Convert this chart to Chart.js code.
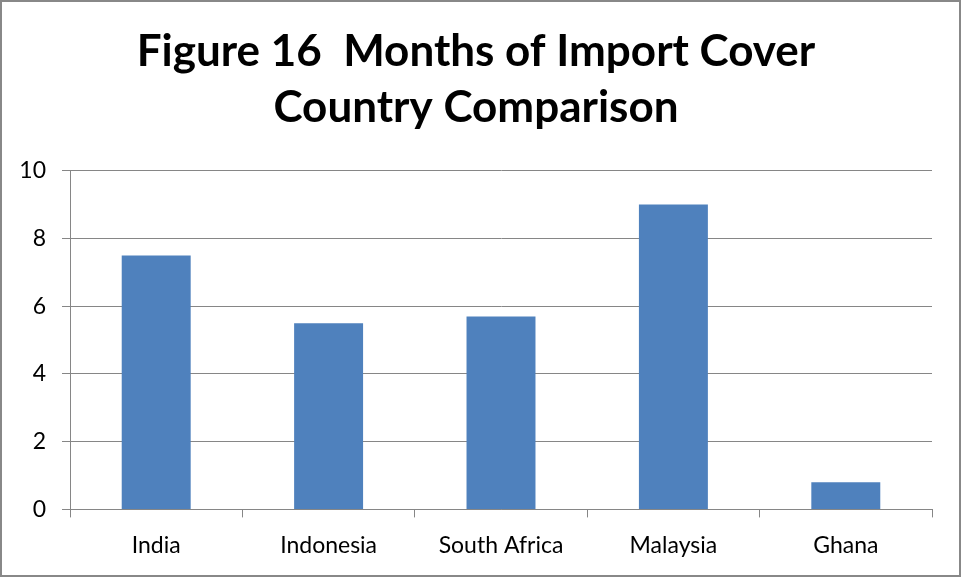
<!DOCTYPE html>
<html>
<head>
<meta charset="utf-8">
<script src="https://cdn.jsdelivr.net/npm/chart.js@4/dist/chart.umd.min.js"></script>
<style>
  body { margin: 0; background: #fff; }
  #wrap { width: 961px; height: 577px; }
</style>
</head>
<body>
<div id="wrap"><canvas id="importChart" width="961" height="577"></canvas></div>
<script>
// chart data
var countries = ['India', 'Indonesia', 'South Africa', 'Malaysia', 'Ghana'];
var monthsCover = [7.5, 5.5, 5.7, 9, 0.8];
var titleLines = ['Figure 16  Months of Import Cover', 'Country Comparison'];

var FONT = "Lato, Calibri, 'Open Sans', sans-serif";
var GRID = '#868686';

// grey frame round the whole chart
var framePlugin = {
  id: 'frame',
  afterDraw: function(chart) {
    var c = chart.ctx;
    c.save();
    c.strokeStyle = '#888888';
    c.lineWidth = 2;
    c.strokeRect(1, 1, chart.width - 2, chart.height - 2);
    c.restore();
  }
};

var ctx = document.getElementById('importChart').getContext('2d');
var chart = new Chart(ctx, {
  type: 'bar',
  data: {
    labels: countries,
    datasets: [{
      label: 'Months of import cover',
      data: monthsCover,
      backgroundColor: '#4F81BD',
      barPercentage: 0.4,
      categoryPercentage: 1.0
    }]
  },
  options: {
    responsive: false,
    animation: false,
    layout: { padding: { left: 20, right: 29, top: 14, bottom: 4 } },
    plugins: {
      legend: { display: false },
      tooltip: { enabled: false },
      title: {
        display: true,
        text: titleLines,
        color: '#000',
        font: { family: FONT, size: 44, weight: 'bold', lineHeight: 1.27 },
        padding: { top: 10, bottom: 35 }
      }
    },
    scales: {
      y: {
        min: 0,
        max: 10,
        ticks: { stepSize: 2, color: '#000', font: { family: FONT, size: 23 }, padding: 16 },
        grid: { color: GRID, lineWidth: 1, tickLength: 8 },
        border: { color: GRID, width: 1 },
        afterFit: function(scale) { scale.width = 50; }
      },
      x: {
        ticks: { color: '#000', font: { family: FONT, size: 23 }, padding: 14 },
        grid: { color: GRID, drawOnChartArea: false, tickLength: 8, offset: true },
        border: { color: GRID, width: 1 }
      }
    }
  },
  plugins: [framePlugin]
});
</script>
</body>
</html>
